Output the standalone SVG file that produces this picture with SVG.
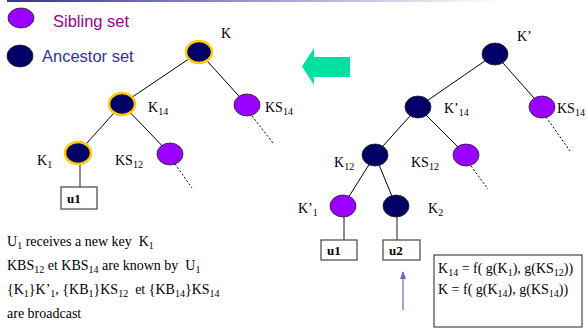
<svg xmlns="http://www.w3.org/2000/svg" width="588" height="332" viewBox="0 0 588 332">
<defs>
<linearGradient id="bar" x1="0" y1="0" x2="1" y2="0">
<stop offset="0" stop-color="#333399"/>
<stop offset="0.85" stop-color="#ffffff"/>
</linearGradient>
<marker id="ah" viewBox="0 0 8 8" refX="7" refY="4" markerWidth="8" markerHeight="8" markerUnits="userSpaceOnUse" orient="auto">
<path d="M0,1 L8,4 L0,7 Z" fill="#6666cc"/>
</marker>
</defs>
<style>
.anc{fill:#000066;stroke:#222222;stroke-width:0.8}
.sib{fill:#9900ff;stroke:#222222;stroke-width:0.8}
.hl{stroke:#ffcc00;stroke-width:2.5}
.edge{stroke:#000000;stroke-width:1;fill:none}
.dot{stroke:#000000;stroke-width:1;stroke-dasharray:2,2;fill:none}
.leaf{stroke:#666666;stroke-width:1.5;fill:none}
.box{fill:#ffffff;stroke:#444444;stroke-width:1.2}
.lbl{font-family:"Liberation Serif","Times New Roman",serif;font-size:14px;fill:#000000}
.ub{font-family:"Liberation Serif","Times New Roman",serif;font-size:13px;font-weight:bold;fill:#000000}
.sub{font-size:10px}
.leg{font-family:"Liberation Sans",Arial,sans-serif;font-size:16.5px}
</style>
<rect x="7" y="0" width="581" height="2" fill="url(#bar)"/>

<g id="legend">
<ellipse cx="21" cy="18" rx="13" ry="10" class="sib"/>
<text x="53" y="27" class="leg" fill="#990099">Sibling set</text>
<ellipse cx="20" cy="56" rx="13" ry="11" class="anc"/>
<text x="42" y="62" class="leg" fill="#333399">Ancestor set</text>
</g>

<g id="connectors">
<line x1="199" y1="52" x2="122" y2="104" class="edge"/>
<line x1="199" y1="52" x2="247" y2="105" class="edge"/>
<line x1="122" y1="104" x2="78" y2="153" class="edge"/>
<line x1="122" y1="104" x2="170" y2="154" class="edge"/>
<line x1="175" y1="164" x2="192" y2="188" class="dot"/>
<line x1="252" y1="116" x2="273" y2="143" class="dot"/>
<line x1="80" y1="164" x2="80" y2="187" class="leaf"/>
<line x1="495" y1="54" x2="418" y2="107" class="edge"/>
<line x1="495" y1="54" x2="542" y2="107" class="edge"/>
<line x1="418" y1="107" x2="375" y2="155" class="edge"/>
<line x1="418" y1="107" x2="466" y2="155" class="edge"/>
<line x1="375" y1="155" x2="343" y2="206" class="edge"/>
<line x1="375" y1="155" x2="396" y2="206" class="edge"/>
<line x1="546" y1="117" x2="570" y2="151" class="dot"/>
<line x1="471" y1="166" x2="488" y2="189" class="dot"/>
<line x1="344" y1="217" x2="344" y2="240" class="leaf"/>
<line x1="397" y1="217" x2="397" y2="240" class="leaf"/>
<line x1="403" y1="310" x2="403" y2="272" stroke="#6666cc" stroke-width="1.2" marker-end="url(#ah)"/>
</g>

<g id="left-K">
<ellipse cx="199" cy="52" rx="13" ry="11" class="anc hl"/>
<text x="221" y="38" class="lbl">K</text>
</g>
<g id="left-K14">
<ellipse cx="122" cy="104" rx="13" ry="11" class="anc hl"/>
<text x="148" y="112" class="lbl">K<tspan class="sub" dy="3">14</tspan></text>
</g>
<g id="left-KS14">
<ellipse cx="247" cy="105" rx="13" ry="11" class="sib"/>
<text x="265" y="112" class="lbl">KS<tspan class="sub" dy="3">14</tspan></text>
</g>
<g id="left-K1">
<ellipse cx="78" cy="153" rx="13" ry="11" class="anc hl"/>
<text x="37" y="165" class="lbl">K<tspan class="sub" dy="3">1</tspan></text>
</g>
<g id="left-KS12">
<ellipse cx="170" cy="154" rx="13" ry="11" class="sib"/>
<text x="115" y="165" class="lbl">KS<tspan class="sub" dy="3">12</tspan></text>
</g>
<g id="left-u1">
<rect x="61" y="187" width="36" height="22" class="box"/>
<text x="67" y="203" class="ub">u1</text>
</g>

<g id="arrow-green">
<polygon points="302,66.5 314,48 314,57 350,57 350,77 314,77 314,85" fill="#00e0a0"/>
</g>

<g id="right-K">
<ellipse cx="495" cy="54" rx="13" ry="11" class="anc"/>
<text x="517" y="41" class="lbl">K’</text>
</g>
<g id="right-K14">
<ellipse cx="418" cy="107" rx="13" ry="11" class="anc"/>
<text x="444" y="113" class="lbl">K’<tspan class="sub" dy="3">14</tspan></text>
</g>
<g id="right-KS14">
<ellipse cx="542" cy="107" rx="13" ry="11" class="sib"/>
<text x="557" y="113" class="lbl">KS<tspan class="sub" dy="3">14</tspan></text>
</g>
<g id="right-K12">
<ellipse cx="375" cy="155" rx="13" ry="11" class="anc"/>
<text x="334" y="167" class="lbl">K<tspan class="sub" dy="3">12</tspan></text>
</g>
<g id="right-KS12">
<ellipse cx="466" cy="155" rx="13" ry="11" class="sib"/>
<text x="411" y="167" class="lbl">KS<tspan class="sub" dy="3">12</tspan></text>
</g>
<g id="right-K1p">
<ellipse cx="343" cy="206" rx="13" ry="11" class="sib"/>
<text x="298" y="213" class="lbl">K’<tspan class="sub" dy="3">1</tspan></text>
</g>
<g id="right-K2">
<ellipse cx="396" cy="206" rx="13" ry="11" class="anc"/>
<text x="428" y="213" class="lbl">K<tspan class="sub" dy="3">2</tspan></text>
</g>
<g id="right-u1">
<rect x="321" y="240" width="36" height="20" class="box"/>
<text x="327" y="255" class="ub">u1</text>
</g>
<g id="right-u2">
<rect x="383" y="240" width="37" height="20" class="box"/>
<text x="389" y="255" class="ub">u2</text>
</g>

<g id="formula">
<rect x="434" y="255" width="148" height="72" fill="#ffffff" stroke="#222222" stroke-width="1"/>
<text x="438" y="273" class="lbl">K<tspan class="sub" dy="3">14</tspan><tspan dy="-3"> = f( g(K</tspan><tspan class="sub" dy="3">1</tspan><tspan dy="-3">), g(KS</tspan><tspan class="sub" dy="3">12</tspan><tspan dy="-3">))</tspan></text>
<text x="438" y="294" class="lbl">K = f( g(K<tspan class="sub" dy="3">14</tspan><tspan dy="-3">), g(KS</tspan><tspan class="sub" dy="3">14</tspan><tspan dy="-3">))</tspan></text>
</g>

<g id="notes">
<text x="7" y="246" class="lbl">U<tspan class="sub" dy="3">1</tspan><tspan dy="-3"> receives a new key &#160;K</tspan><tspan class="sub" dy="3">1</tspan></text>
<text x="7" y="270" class="lbl">KBS<tspan class="sub" dy="3">12</tspan><tspan dy="-3"> et KBS</tspan><tspan class="sub" dy="3">14</tspan><tspan dy="-3"> are known by &#160;U</tspan><tspan class="sub" dy="3">1</tspan></text>
<text x="7" y="294" class="lbl">{K<tspan class="sub" dy="3">1</tspan><tspan dy="-3">}K’</tspan><tspan class="sub" dy="3">1</tspan><tspan dy="-3">, {KB</tspan><tspan class="sub" dy="3">1</tspan><tspan dy="-3">}KS</tspan><tspan class="sub" dy="3">12</tspan><tspan dy="-3"> &#160;et {KB</tspan><tspan class="sub" dy="3">14</tspan><tspan dy="-3">}KS</tspan><tspan class="sub" dy="3">14</tspan></text>
<text x="7" y="318" class="lbl">are broadcast</text>
</g>
</svg>
